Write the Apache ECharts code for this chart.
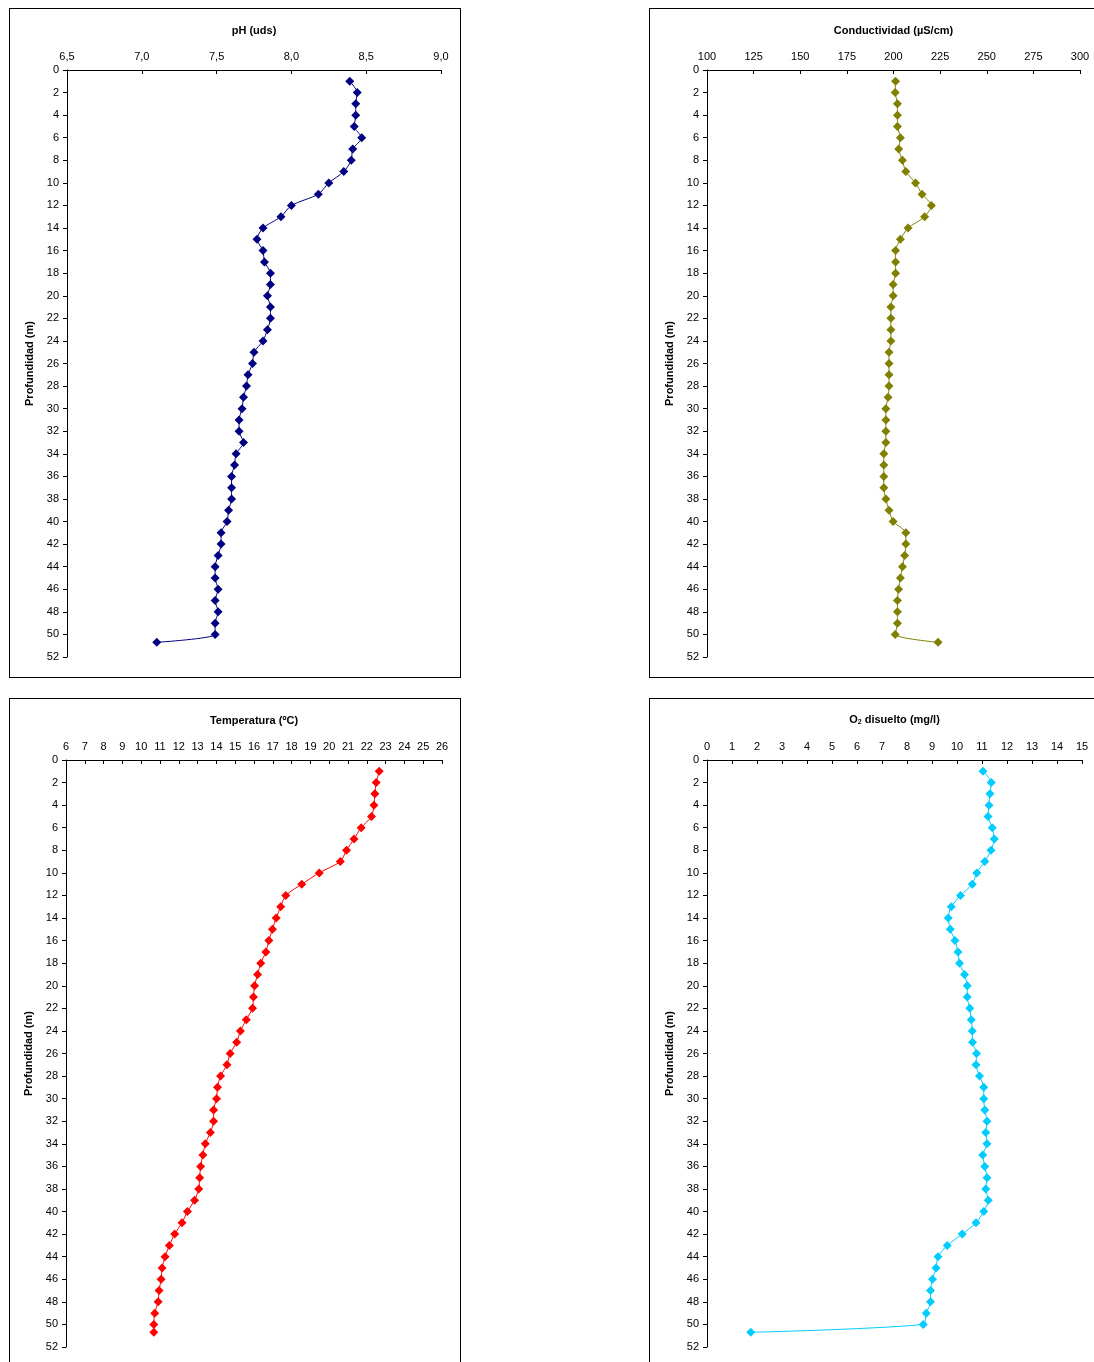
<!DOCTYPE html>
<html>
<head>
<meta charset="utf-8">
<script src="https://cdn.jsdelivr.net/npm/echarts@6/dist/echarts.min.js"></script>
<style>
    body { margin: 0; background: #fff; width: 1094px; height: 1362px; overflow: hidden; position: relative; }
    .frame { position: absolute; width: 450px; height: 668px; border: 1px solid #000; background: #fff; }
</style>
</head>
<body>
<div class='frame' id='phChart' style='left: 9px; top: 8px;'></div>
<div class='frame' id='condChart' style='left: 649px; top: 8px;'></div>
<div class='frame' id='tempChart' style='left: 9px; top: 698px;'></div>
<div class='frame' id='oxyChart' style='left: 649px; top: 698px;'></div>
<script>
// profundidad de cada medida (m)
const depths = [1, 2, 3, 4, 5, 6, 7, 8, 9, 10, 11, 12, 13, 14, 15, 16, 17, 18, 19, 20,
    21, 22, 23, 24, 25, 26, 27, 28, 29, 30, 31, 32, 33, 34, 35, 36, 37, 38, 39, 40,
    41, 42, 43, 44, 45, 46, 47, 48, 49, 50, 50.7];
// pH (uds)
const phValues = [8.39, 8.44, 8.43, 8.43, 8.42, 8.47, 8.41, 8.40, 8.35, 8.25,
    8.18, 8.00, 7.93, 7.81, 7.77, 7.81, 7.82, 7.86, 7.86, 7.84,
    7.86, 7.86, 7.84, 7.81, 7.75, 7.74, 7.71, 7.70, 7.68, 7.67,
    7.65, 7.65, 7.68, 7.63, 7.62, 7.60, 7.60, 7.60, 7.58, 7.57,
    7.53, 7.53, 7.51, 7.49, 7.49, 7.51, 7.49, 7.51, 7.49, 7.49, 7.10];
// conductividad (uS/cm)
const condValues = [201.1, 200.9, 202.1, 202.1, 202.1, 203.7, 202.8, 204.8, 206.6, 211.8,
    215.3, 220.3, 216.7, 207.8, 203.7, 201.1, 201.1, 201.1, 199.8, 199.8,
    198.6, 198.6, 198.6, 198.6, 197.6, 197.6, 197.6, 197.6, 197.1, 195.9,
    195.9, 195.9, 195.9, 194.8, 194.8, 194.8, 194.8, 195.9, 197.6, 199.8,
    206.6, 206.6, 206.0, 204.8, 203.7, 202.7, 202.1, 202.1, 202.1, 200.9, 223.9];
// temperatura (ºC)
const tempValues = [22.66, 22.50, 22.43, 22.38, 22.25, 21.70, 21.32, 20.92, 20.59, 19.47,
    18.54, 17.69, 17.42, 17.18, 16.98, 16.79, 16.63, 16.36, 16.19, 16.03,
    15.97, 15.92, 15.59, 15.28, 15.08, 14.73, 14.56, 14.22, 14.06, 14.01,
    13.85, 13.85, 13.68, 13.41, 13.28, 13.16, 13.11, 13.06, 12.84, 12.46,
    12.17, 11.78, 11.50, 11.27, 11.11, 11.06, 10.95, 10.90, 10.72, 10.67, 10.67];
// O2 disuelto (mg/l)
const oxyValues = [11.04, 11.37, 11.32, 11.28, 11.24, 11.41, 11.49, 11.36, 11.11, 10.79,
    10.61, 10.14, 9.77, 9.65, 9.73, 9.92, 10.04, 10.10, 10.30, 10.41,
    10.41, 10.51, 10.57, 10.61, 10.62, 10.78, 10.76, 10.90, 11.07, 11.07,
    11.11, 11.20, 11.15, 11.20, 11.03, 11.11, 11.20, 11.15, 11.25, 11.07,
    10.76, 10.21, 9.61, 9.24, 9.16, 9.02, 8.94, 8.94, 8.77, 8.65, 1.75];

const fontFamily = '"Liberation Sans", Arial, sans-serif';

function buildOption (cfg) {
    return {
        animation: false,
        textStyle: { fontFamily },
        grid: { left: cfg.left, right: cfg.right, top: 61, bottom: 20 },
        xAxis: {
            type: 'value',
            position: 'top',
            min: cfg.min,
            max: cfg.max,
            interval: cfg.interval,
            name: cfg.name,
            nameLocation: 'middle',
            nameGap: 34,
            nameTextStyle: {
                fontFamily, fontSize: 11, fontWeight: 'bold', color: '#000',
                rich: {
                    t: { fontFamily, fontSize: 11, fontWeight: 'bold', color: '#000' },
                    sub: { fontFamily, fontSize: 7, fontWeight: 'bold', color: '#000', verticalAlign: 'bottom', padding: [6, 0, 0, 0] }
                }
            },
            axisLine: { show: true, lineStyle: { color: '#000', width: 1 } },
            axisTick: { show: true, inside: true, length: 4, lineStyle: { color: '#000' } },
            axisLabel: { color: '#000', fontSize: 11, margin: 8, formatter: cfg.fmt },
            splitLine: { show: false }
        },
        yAxis: {
            type: 'value',
            inverse: true,
            min: 0,
            max: 52,
            interval: 2,
            name: 'Profundidad (m)',
            nameLocation: 'middle',
            nameGap: 27,
            nameTextStyle: { fontFamily, fontSize: 11, fontWeight: 'bold', color: '#000' },
            axisLine: { show: true, lineStyle: { color: '#000', width: 1 } },
            axisTick: { show: true, length: 4, lineStyle: { color: '#000' } },
            axisLabel: { color: '#000', fontSize: 11, margin: 8 },
            splitLine: { show: false }
        },
        series: [{
            type: 'line',
            data: cfg.values.map((v, i) => [v, depths[i]]),
            smooth: 0.25,
            symbol: 'diamond',
            symbolSize: 9,
            showSymbol: true,
            lineStyle: { color: cfg.color, width: 1 },
            itemStyle: { color: cfg.color }
        }]
    };
}

const charts = [
    { id: 'phChart', name: 'pH (uds)', min: 6.5, max: 9, interval: 0.5, left: 57, right: 19,
        fmt: v => v.toFixed(1).replace('.', ','), values: phValues, color: '#000080' },
    { id: 'condChart', name: 'Conductividad (µS/cm)', min: 100, max: 300, interval: 25, left: 57, right: 20,
        fmt: v => String(v), values: condValues, color: '#808000' },
    { id: 'tempChart', name: 'Temperatura (ºC)', min: 6, max: 26, interval: 1, left: 56, right: 18,
        fmt: v => String(v), values: tempValues, color: '#FF0000' },
    { id: 'oxyChart', name: '{t|O}{sub|2}{t| disuelto (mg/l)}', min: 0, max: 15, interval: 1, left: 57, right: 18,
        fmt: v => String(v), values: oxyValues, color: '#00CCFF' }
];

charts.forEach(cfg => {
    let myChart = echarts.init(document.getElementById(cfg.id));
    myChart.setOption(buildOption(cfg));
});
</script>
</body>
</html>
